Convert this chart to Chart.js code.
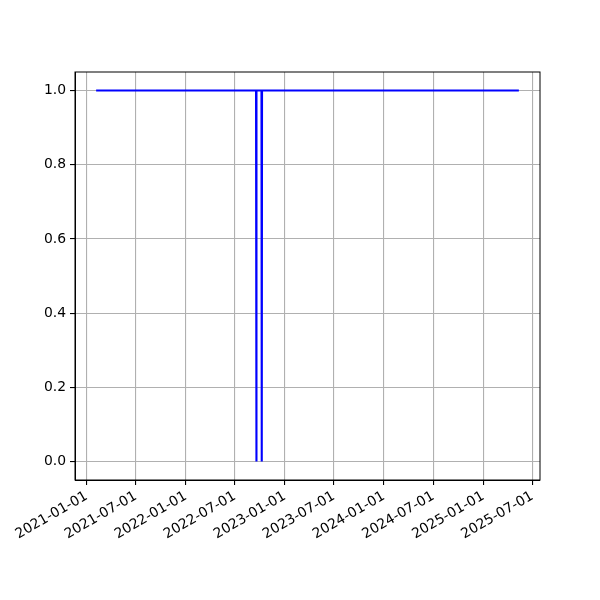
<!DOCTYPE html>
<html>
<head>
<meta charset="utf-8">
<script src="https://cdn.jsdelivr.net/npm/chart.js@4/dist/chart.umd.min.js"></script>
<style>
  html, body { margin: 0; padding: 0; background: #ffffff; }
  #wrap { width: 600px; height: 600px; }
</style>
</head>
<body>
<div id="wrap"><canvas id="chart" width="600" height="600"></canvas></div>
<script>
// Data: value is 1 everywhere except two single days at 0
const dates  = ['2021-02-05', '2022-09-17', '2022-09-18', '2022-09-19', '2022-10-07', '2022-10-08', '2022-10-09', '2025-05-12'];
const values = [1, 1, 0, 1, 1, 0, 1, 1];

// Axis ticks
const xTickLabels = ['2021-01-01', '2021-07-01', '2022-01-01', '2022-07-01', '2023-01-01',
                     '2023-07-01', '2024-01-01', '2024-07-01', '2025-01-01', '2025-07-01'];
const yTicks = [0.0, 0.2, 0.4, 0.6, 0.8, 1.0];

function toTime(s) {
    const p = s.split('-').map(Number);
    return Date.UTC(p[0], p[1] - 1, p[2]);
}
function fmtDate(t) {
    const d = new Date(t);
    const mm = String(d.getUTCMonth() + 1).padStart(2, '0');
    const dd = String(d.getUTCDate()).padStart(2, '0');
    return d.getUTCFullYear() + '-' + mm + '-' + dd;
}

const points = dates.map((d, i) => ({ x: toTime(d), y: values[i] }));
const tMin = points[0].x, tMax = points[points.length - 1].x;
const margin = (tMax - tMin) * 0.05;

const FONT = { family: 'DejaVu Sans', size: 13.9 };
const GRID = '#b0b0b0';

new Chart(document.getElementById('chart'), {
    type: 'line',
    data: {
        datasets: [{
            data: points,
            borderColor: '#0000ff',
            borderWidth: 2.1,
            pointRadius: 0,
            tension: 0,
            fill: false
        }]
    },
    options: {
        responsive: false,
        animation: false,
        layout: { padding: { top: 72, right: 60, left: 0, bottom: 0 } },
        plugins: { legend: { display: false }, tooltip: { enabled: false } },
        scales: {
            x: {
                type: 'linear',
                min: tMin - margin,
                max: tMax + margin,
                afterBuildTicks: (scale) => {
                    scale.ticks = xTickLabels.map(s => ({ value: toTime(s) }));
                },
                afterFit: (scale) => { scale.height = 120; },
                ticks: {
                    color: '#000000',
                    font: FONT,
                    minRotation: 30,
                    maxRotation: 30,
                    padding: 3,
                    autoSkip: false,
                    callback: (v) => fmtDate(v)
                },
                grid: { color: GRID, lineWidth: 1.1, tickColor: '#000000', tickLength: 5 },
                border: { color: '#000000', width: 1 }
            },
            y: {
                min: -0.05,
                max: 1.05,
                afterBuildTicks: (scale) => {
                    scale.ticks = yTicks.map(v => ({ value: v }));
                },
                afterFit: (scale) => { scale.width = 75; },
                ticks: {
                    color: '#000000',
                    font: FONT,
                    padding: 4,
                    callback: (v) => Number(v).toFixed(1)
                },
                grid: { color: GRID, lineWidth: 1.1, tickColor: '#000000', tickLength: 5 },
                border: { color: '#000000', width: 1 }
            }
        }
    },
    plugins: [{
        id: 'frame',
        afterDraw(chart) {
            const { ctx, chartArea: a } = chart;
            ctx.save();
            ctx.strokeStyle = '#000000';
            ctx.lineWidth = 1;
            ctx.strokeRect(a.left, a.top, a.right - a.left, a.bottom - a.top);
            ctx.restore();
        }
    }]
});
</script>
</body>
</html>
